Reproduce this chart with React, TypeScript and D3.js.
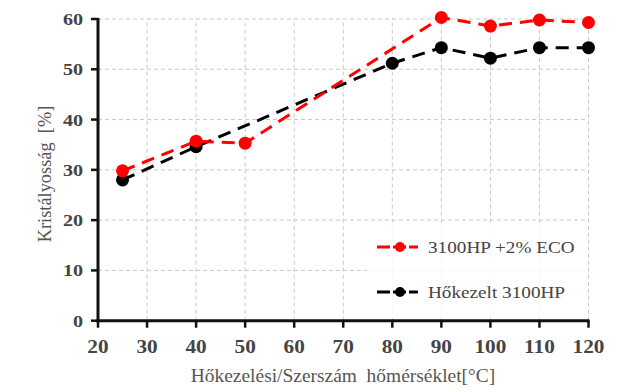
import React from "react";
import * as d3 from "d3";

const redX = [25, 40, 50, 90, 100, 110, 120];
const redY = [29.8, 35.7, 35.3, 60.3, 58.6, 59.8, 59.3];
const blackX = [25, 40, 80, 90, 100, 110, 120];
const blackY = [28.0, 34.6, 51.2, 54.3, 52.2, 54.3, 54.3];
const xTicks = [20, 30, 40, 50, 60, 70, 80, 90, 100, 110, 120];
const yTicks = [0, 10, 20, 30, 40, 50, 60];
const legendLabels = ["3100HP +2% ECO", "Hőkezelt 3100HP"];
const seriesColors = ["#ff0000", "#000000"];

export default function App() {
  const W = 637, H = 392;
  const x = d3.scaleLinear().domain([20, 120]).range([98, 588.5]);
  const y = d3.scaleLinear().domain([0, 60]).range([320.7, 19]);
  const line = d3.line<[number, number]>().x(d => x(d[0])).y(d => y(d[1]));
  const red: [number, number][] = redX.map((v, i) => [v, redY[i]]);
  const black: [number, number][] = blackX.map((v, i) => [v, blackY[i]]);
  const font = "'Liberation Serif', 'Times New Roman', serif";
  const series = [black, red];
  const colors = [seriesColors[1], seriesColors[0]];
  return (
    <svg width={W} height={H} style={{ position: "absolute", left: 0, top: 0, background: "#fff" }} fontFamily={font}>
      {/* grid */}
      {yTicks.filter(t => t > 0).map(t => (
        <line key={"gy" + t} x1={x(20)} x2={x(120)} y1={y(t)} y2={y(t)} stroke="#c8c8c8" strokeWidth={1} strokeDasharray="4,3" />
      ))}
      {xTicks.filter(t => t > 20).map(t => (
        <line key={"gx" + t} x1={x(t)} x2={x(t)} y1={y(0)} y2={y(60)} stroke="#c8c8c8" strokeWidth={1} strokeDasharray="4,3" />
      ))}
      {/* legend background */}
      <rect x={367} y={226} width={219} height={92} fill="#fff" opacity={0.8} />
      {/* series */}
      {series.map((s, i) => (
        <g key={"s" + i}>
          <path d={line(s) || ""} fill="none" stroke={colors[i]} strokeWidth={3} strokeDasharray="13,8" />
          {s.map((p, j) => (
            <circle key={j} cx={x(p[0])} cy={y(p[1])} r={6.5} fill={colors[i]} />
          ))}
        </g>
      ))}
      {/* axes */}
      <line x1={x(20)} x2={x(20)} y1={y(60) - 1} y2={y(0) + 1.5} stroke="#111" strokeWidth={3} />
      <line x1={x(20) - 1.5} x2={x(120) + 1} y1={y(0)} y2={y(0)} stroke="#111" strokeWidth={3} />
      {yTicks.map(t => (
        <g key={"yt" + t}>
          <line x1={x(20) - 7} x2={x(20)} y1={y(t)} y2={y(t)} stroke="#111" strokeWidth={2.5} />
          <text transform={`translate(${x(20) - 15},${y(t) + 6}) scale(1.15,1)`} textAnchor="end" fontSize={17.5} fontWeight="bold" fill="#444">{t}</text>
        </g>
      ))}
      {xTicks.map(t => (
        <g key={"xt" + t}>
          <line x1={x(t)} x2={x(t)} y1={y(0)} y2={y(0) + 7} stroke="#111" strokeWidth={2.5} />
          <text transform={`translate(${x(t)},${353}) scale(1.12,1)`} textAnchor="middle" fontSize={19} fontWeight="bold" fill="#444">{t}</text>
        </g>
      ))}
      {/* axis titles */}
      <text transform={`translate(51,174) rotate(-90) scale(1.02,1.1)`} textAnchor="middle" fontSize={18} fill="#555" style={{ whiteSpace: "pre" }}>{"Kristályosság  [%]"}</text>
      <text transform={`translate(343,382) scale(1.08,1)`} textAnchor="middle" fontSize={18} fill="#555" style={{ whiteSpace: "pre" }}>{"Hőkezelési/Szerszám  hőmérséklet[°C]"}</text>
      {/* legend */}
      {legendLabels.map((lab, i) => (
        <g key={"lg" + i}>
          <line x1={377} x2={418} y1={247 + i * 45} y2={247 + i * 45} stroke={seriesColors[i]} strokeWidth={3} strokeDasharray="13,3" />
          <circle cx={400} cy={247 + i * 45} r={5} fill={seriesColors[i]} />
          <text transform={`translate(428,${253 + i * 45}) scale(1.13,1)`} fontSize={17} fill="#444">{lab}</text>
        </g>
      ))}
    </svg>
  );
}
